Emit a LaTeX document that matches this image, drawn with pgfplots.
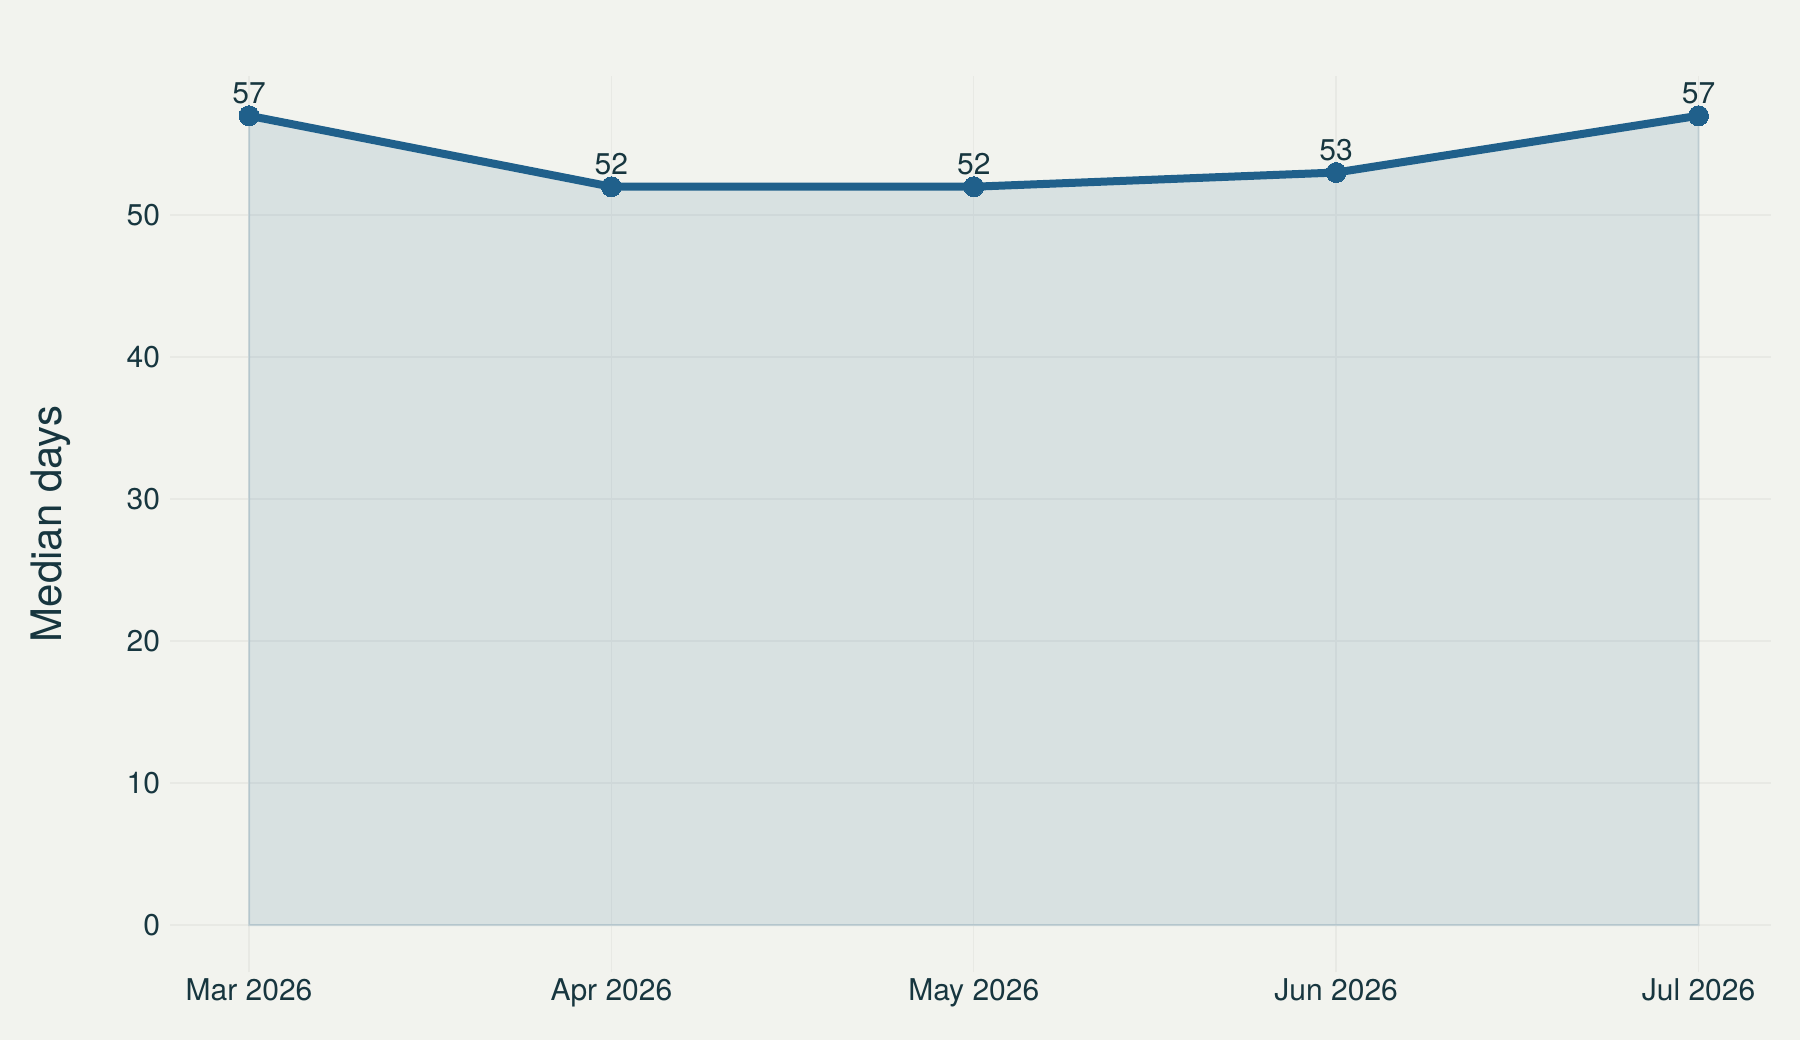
\documentclass[border=0pt]{standalone}
\usepackage{pgfplots}
\pgfplotsset{compat=1.18}
\usepackage{fontspec}
\setmainfont{TeX Gyre Heros}
\definecolor{bgc}{HTML}{F2F3EE}
\definecolor{linec}{HTML}{20608B}
\definecolor{txtc}{HTML}{17363F}
\definecolor{gridc}{HTML}{E8E9E4}
\begin{document}
\begin{tikzpicture}
\fill[bgc] (0,0) rectangle (900bp,520bp);
\useasboundingbox (0,0) rectangle (900bp,520bp);
\begin{axis}[
  at={(85bp,34bp)}, anchor=south west,
  scale only axis, width=800.5bp, height=448bp,
  xmin=-0.218, xmax=4.2, ymin=-3.31, ymax=59.8,
  axis line style={draw=none},
  xtick={0,1,2,3,4},
  xticklabels={Mar 2026,Apr 2026,May 2026,Jun 2026,Jul 2026},
  ytick={0,10,20,30,40,50},
  major tick length=0pt,
  grid=major,
  major grid style={draw=gridc, line width=0.7bp},
  tick label style={font=\fontsize{15bp}{18bp}\selectfont, text=txtc},
  yticklabel style={xshift=-1.5bp},
  /pgf/number format/assume math mode=true,
  ylabel={Median days},
  ylabel style={at={(axis description cs:-0.0745,0.5)}, anchor=center, font=\fontsize{21bp}{25bp}\selectfont, text=txtc},
  clip=false,
]
\addplot[draw=linec, draw opacity=0.15, line width=1bp, fill=linec, fill opacity=0.12] coordinates {(0,57) (1,52) (2,52) (3,53) (4,57)} \closedcycle;
\addplot[draw=linec, line width=4bp, mark=*, mark size=5bp, mark options={fill=linec, draw=linec, line width=0pt},
  nodes near coords, every node near coord/.append style={font=\fontsize{15bp}{18bp}\selectfont, text=txtc, anchor=south, yshift=2.5bp}]
  coordinates {(0,57) (1,52) (2,52) (3,53) (4,57)};
\end{axis}
\end{tikzpicture}
\end{document}
